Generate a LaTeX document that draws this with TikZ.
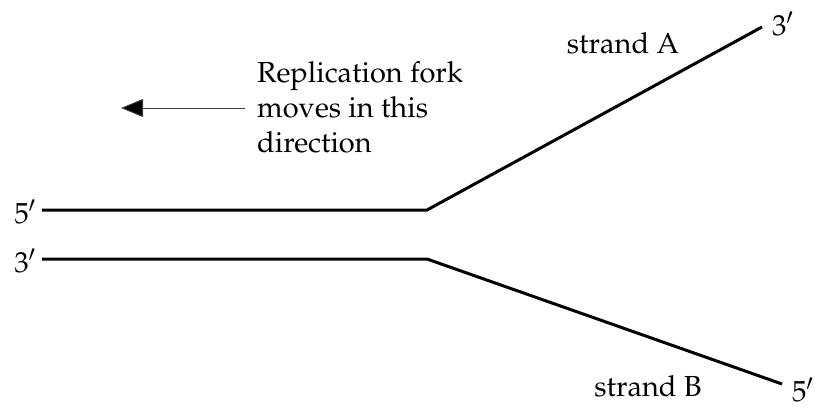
\documentclass[tikz,border=0pt]{standalone}
\usepackage[T1]{fontenc}
\usepackage{mathpazo}
\usetikzlibrary{arrows.meta}
\tikzset{
  strand/.style={line width=3pt, line join=miter},
  lbl/.style={font=\fontsize{29}{35}\selectfont, inner sep=0pt},
  pointer/.style={line width=0.9pt, draw=black!75, -{Triangle[length=22pt,width=18pt,fill=black]}}
}
\newcommand{\pr}{\kern-0.5pt$'$}
\begin{document}
\begin{tikzpicture}[x=1pt,y=-1pt]
\useasboundingbox (0,0) rectangle (824,409);
\coordinate (t0) at (42,210);
\coordinate (tk) at (427,210);
\coordinate (te) at (762,27);
\coordinate (b0) at (42,259);
\coordinate (bk) at (427,259);
\coordinate (be) at (782,384);
\draw[strand] (t0) -- (tk) -- (te);
\draw[strand] (b0) -- (bk) -- (be);
\node[lbl, anchor=east] (l5) at (36,212) {5\pr};
\node[lbl, anchor=east] (l3) at (36,261) {3\pr};
\node[lbl, anchor=west] (r3) at (772,24) {3\pr};
\node[lbl, anchor=west] (r5) at (792,390) {5\pr};
\node[lbl] (sa) at (623,43) {strand A};
\node[lbl] (sb) at (648,386) {strand B};
\node[lbl, anchor=north west, align=left] (txt) at (257,61) {Replication fork\\moves in this\\direction};
\coordinate (as) at (245,108);
\coordinate (ae) at (121,108);
\draw[pointer] (as) -- (ae);
\end{tikzpicture}
\end{document}
